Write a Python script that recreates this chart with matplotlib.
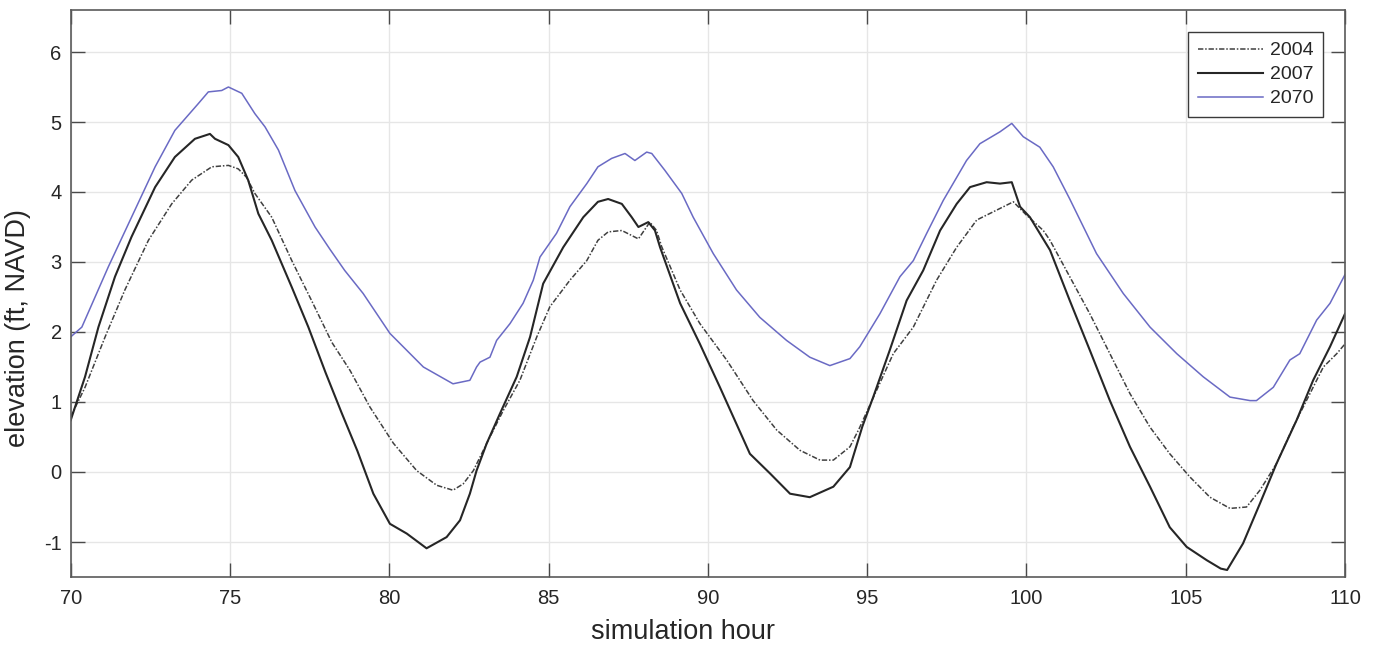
import matplotlib
matplotlib.use("Agg")
import matplotlib.pyplot as plt

plt.rcParams['font.family'] = ['Liberation Sans', 'DejaVu Sans']

# ---- data ----
hours_2004 = [70.0, 70.45, 71.08, 71.7, 72.44, 73.17, 73.8, 74.43, 74.95, 75.26, 75.52, 75.78, 76.31,
              76.94, 77.56, 78.2, 78.77, 79.39, 80.13, 80.86, 81.49, 82.0, 82.32, 82.64, 83.06, 83.58,
              84.1, 84.63, 85.04, 85.67, 86.2, 86.55, 86.87, 87.3, 87.82, 88.18, 88.39, 88.55, 89.13,
              89.75, 90.59, 91.42, 92.16, 92.89, 93.52, 93.94, 94.46, 94.75, 95.3, 95.82, 96.45, 97.18,
              97.81, 98.44, 99.06, 99.59, 100.0, 100.53, 100.74, 101.36, 101.99, 102.62, 103.25, 103.88,
              104.5, 105.13, 105.76, 106.39, 106.91, 107.33, 107.85, 108.37, 108.9, 109.32, 109.74, 110.0]
elev_2004 = [0.79, 1.21, 1.93, 2.6, 3.31, 3.83, 4.17, 4.36, 4.38, 4.33, 4.21, 3.98, 3.64,
             3.02, 2.45, 1.85, 1.45, 0.93, 0.41, 0.02, -0.19, -0.26, -0.17, 0.02, 0.41, 0.88,
             1.31, 1.93, 2.36, 2.74, 3.02, 3.31, 3.43, 3.45, 3.33, 3.57, 3.45, 3.22, 2.6,
             2.12, 1.6, 1.02, 0.6, 0.31, 0.17, 0.17, 0.36, 0.62, 1.17, 1.69, 2.07, 2.74,
             3.21, 3.6, 3.74, 3.86, 3.67, 3.45, 3.31, 2.79, 2.26, 1.69, 1.12, 0.64,
             0.26, -0.07, -0.36, -0.52, -0.5, -0.26, 0.12, 0.64, 1.12, 1.5, 1.69, 1.83]

hours_2007 = [70.0, 70.45, 70.87, 71.39, 71.91, 72.65, 73.27, 73.9, 74.37, 74.53, 74.95, 75.26, 75.57,
              75.89, 76.31, 76.94, 77.46, 78.0, 78.5, 79.0, 79.5, 80.02, 80.55, 81.17, 81.8, 82.22,
              82.53, 82.74, 83.06, 83.47, 84.0, 84.42, 84.83, 85.46, 86.09, 86.55, 86.87, 87.3, 87.61,
              87.82, 88.13, 88.34, 88.5, 89.13, 89.75, 90.38, 91.32, 91.95, 92.58, 93.2, 93.94, 94.46,
              94.85, 95.19, 95.71, 96.24, 96.76, 97.29, 97.81, 98.23, 98.75, 99.17, 99.54, 99.8,
              100.11, 100.74, 101.36, 101.99, 102.62, 103.25, 103.88, 104.5, 105.03, 105.66, 106.1,
              106.3, 106.8, 107.33, 107.85, 108.48, 109.0, 109.53, 110.0]
elev_2007 = [0.74, 1.36, 2.07, 2.79, 3.36, 4.07, 4.5, 4.76, 4.83, 4.76, 4.67, 4.5, 4.17,
             3.69, 3.31, 2.64, 2.07, 1.42, 0.85, 0.3, -0.31, -0.74, -0.88, -1.09, -0.93, -0.69,
             -0.31, 0.02, 0.41, 0.83, 1.36, 1.93, 2.69, 3.21, 3.64, 3.86, 3.9, 3.83, 3.64,
             3.5, 3.57, 3.45, 3.21, 2.41, 1.83, 1.21, 0.26, -0.02, -0.31, -0.36, -0.21, 0.07,
             0.65, 1.07, 1.74, 2.45, 2.88, 3.45, 3.83, 4.07, 4.14, 4.12, 4.14, 3.79,
             3.64, 3.17, 2.45, 1.74, 1.02, 0.36, -0.21, -0.79, -1.07, -1.26, -1.38,
             -1.4, -1.02, -0.45, 0.12, 0.74, 1.31, 1.79, 2.26]

hours_2070 = [70.0, 70.35, 71.18, 71.91, 72.65, 73.27, 74.0, 74.32, 74.74, 74.95, 75.37, 75.78, 76.1,
              76.52, 77.04, 77.67, 78.14, 78.6, 79.18, 80.02, 81.07, 82.0, 82.53, 82.74, 82.85, 83.16,
              83.37, 83.79, 84.2, 84.52, 84.73, 85.25, 85.67, 86.2, 86.55, 86.98, 87.4, 87.71, 88.08,
              88.24, 88.65, 89.18, 89.54, 90.17, 90.9, 91.63, 92.47, 93.2, 93.83, 94.46, 94.77, 95.4,
              96.03, 96.45, 96.87, 97.39, 98.12, 98.54, 99.17, 99.54, 99.9, 100.42, 100.84, 101.36,
              102.2, 103.04, 103.88, 104.72, 105.55, 106.39, 107.02, 107.22, 107.75, 108.27,
              108.58, 109.11, 109.53, 110.0]
elev_2070 = [1.93, 2.07, 2.93, 3.64, 4.36, 4.88, 5.26, 5.43, 5.45, 5.5, 5.41, 5.12, 4.93,
             4.6, 4.02, 3.5, 3.18, 2.88, 2.55, 1.98, 1.5, 1.26, 1.31, 1.5, 1.57, 1.64,
             1.88, 2.12, 2.41, 2.74, 3.07, 3.41, 3.79, 4.12, 4.36, 4.48, 4.55, 4.45, 4.57,
             4.55, 4.31, 3.98, 3.64, 3.12, 2.6, 2.21, 1.88, 1.64, 1.52, 1.62, 1.79, 2.26,
             2.79, 3.02, 3.41, 3.88, 4.45, 4.69, 4.86, 4.98, 4.79, 4.64, 4.36, 3.9,
             3.12, 2.55, 2.07, 1.69, 1.36, 1.07, 1.02, 1.02, 1.21, 1.6,
             1.69, 2.17, 2.41, 2.82]

x_ticks = [70, 75, 80, 85, 90, 95, 100, 105, 110]
y_ticks = [-1, 0, 1, 2, 3, 4, 5, 6]
labels = ['2004', '2007', '2070']

# ---- figure ----
fig = plt.figure(figsize=(13.76, 6.47), dpi=100)
W, H = 1376, 647
left, right, top, bottom = 70.7, 1345.0, 10.0, 577.0
ax = fig.add_axes([left / W, 1 - bottom / H, (right - left) / W, (bottom - top) / H])

ax.plot(hours_2004, elev_2004, color='#404040', lw=1.1, linestyle=(0, (3.5, 1.2, 1, 1.2)), label=labels[0])
ax.plot(hours_2007, elev_2007, color='#262626', lw=1.5, linestyle='-', label=labels[1])
ax.plot(hours_2070, elev_2070, color='#6a6ac4', lw=1.1, linestyle='-', label=labels[2])

ax.set_xlim(70, 110)
ax.set_ylim(-1.5, 6.6)
ax.set_xticks(x_ticks)
ax.set_yticks(y_ticks)
ax.set_xticklabels([str(t) for t in x_ticks])
ax.set_yticklabels([str(t) for t in y_ticks])

ax.grid(True, color='#e6e6e6', linewidth=1.0)
ax.set_axisbelow(True)
for s in ax.spines.values():
    s.set_color('#5a5a5a')
    s.set_linewidth(1.2)
ax.tick_params(direction='in', length=10, width=1.0, color='#4a4a4a',
               labelsize=14.5, labelcolor='#262626', top=True, right=True)
ax.tick_params(axis='x', pad=9)
ax.tick_params(axis='y', pad=6.5)

ax.set_xlabel('simulation hour', fontsize=19.5, color='#262626')
ax.set_ylabel('elevation (ft, NAVD)', fontsize=19.5, color='#262626')
ax.xaxis.set_label_coords((683 - left) / (right - left), -(619 - bottom) / (bottom - top))
ax.yaxis.set_label_coords(-(left - 31) / (right - left), (bottom - 328) / (bottom - top))

leg = ax.legend(loc='upper right',
                bbox_to_anchor=((1323 - left) / (right - left), (bottom - 32) / (bottom - top)),
                borderaxespad=0, fontsize=14, frameon=True, fancybox=False,
                handlelength=3.35, handletextpad=0.36, labelspacing=0.33,
                borderpad=0.5)
leg.get_frame().set_edgecolor('#3a3a3a')
leg.get_frame().set_linewidth(1.0)
leg.get_frame().set_alpha(1.0)
for t in leg.get_texts():
    t.set_color('#262626')

fig.savefig('out.png', dpi=100)
